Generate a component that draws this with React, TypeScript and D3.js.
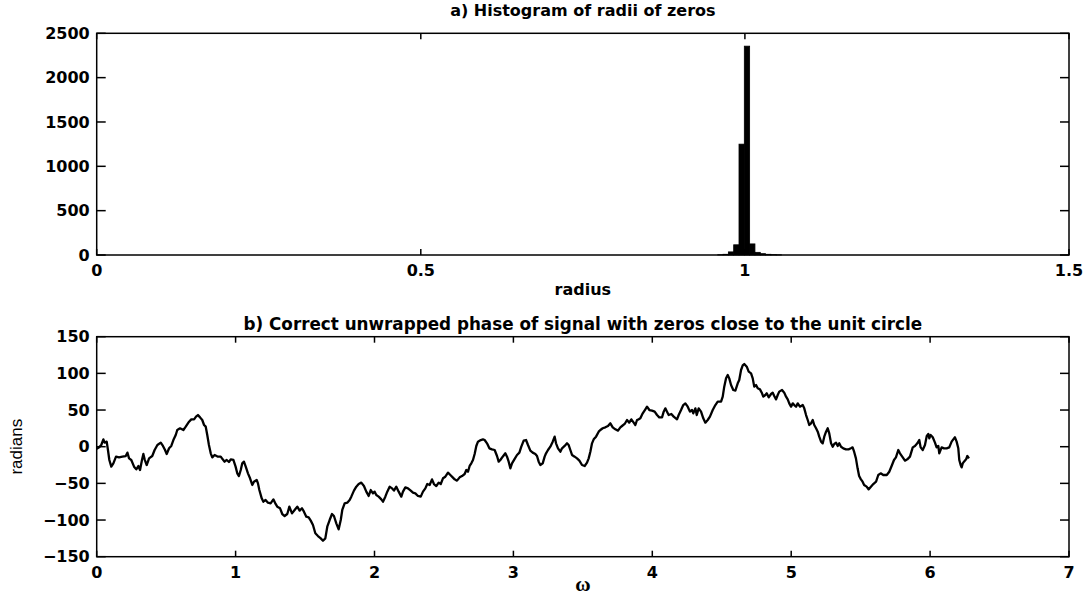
import React from 'react';
import * as d3 from 'd3';

const histTitle = 'a) Histogram of radii of zeros';
const histXLabel = 'radius';
const phaseTitle = 'b) Correct unwrapped phase of signal with zeros close to the unit circle';
const phaseXLabel = 'ω';
const phaseYLabel = 'radians';

const radiusTicks = [0, 0.5, 1, 1.5];
const countTicks = [0, 500, 1000, 1500, 2000, 2500];
const omegaTicks = [0, 1, 2, 3, 4, 5, 6, 7];
const phaseTicks = [-150, -100, -50, 0, 50, 100, 150];

const radiusBinWidth = 0.0082;
const radiusBinCenters = [0.9622, 0.9704, 0.9786, 0.9868, 0.995, 1.0032, 1.0114, 1.0196, 1.0278, 1.036, 1.0442, 1.0524];
const radiusCounts = [3, 8, 35, 115, 1250, 2355, 125, 30, 15, 8, 4, 2];

const phaseCurve: [number, number][] = [
  [0, -3], [0.017, -0.9], [0.033, 2.3], [0.048, 10.0], [0.057, 5.5], [0.072, 6.9], [0.081, -4.5], [0.091, -18.1],
  [0.105, -27.2], [0.12, -22.7], [0.139, -13.6], [0.161, -14.5], [0.185, -13.6], [0.209, -12.7], [0.221, -8.1],
  [0.233, -15.9], [0.249, -18.1], [0.269, -27.2], [0.285, -30.9], [0.3, -26.3], [0.312, -31.8], [0.326, -18.1],
  [0.336, -9.9], [0.345, -17.2], [0.36, -25.0], [0.377, -15.9], [0.4, -12.7], [0.417, -4.5], [0.437, 2.3],
  [0.461, 5.5], [0.477, 1.0], [0.492, -4.5], [0.504, -9.9], [0.521, -2.2], [0.537, 1.0], [0.552, 9.1],
  [0.569, 16.0], [0.58, 22.8], [0.6, 25.1], [0.624, 22.8], [0.641, 27.3], [0.665, 34.1], [0.681, 37.3],
  [0.701, 37.3], [0.715, 41.0], [0.729, 43.2], [0.744, 40.0], [0.76, 36.4], [0.773, 29.6], [0.785, 27.3],
  [0.796, 16.0], [0.808, 2.3], [0.821, -9.0], [0.832, -14.5], [0.849, -11.3], [0.873, -13.6], [0.893, -13.6],
  [0.907, -17.2], [0.921, -20.4], [0.936, -18.1], [0.952, -20.9], [0.965, -17.2], [0.984, -18.1], [1.0, -27.2],
  [1.012, -36.3], [1.024, -40.0], [1.037, -31.8], [1.048, -22.7], [1.06, -20.4], [1.073, -27.2], [1.089, -36.3],
  [1.104, -43.1], [1.12, -52.2], [1.132, -47.7], [1.152, -45.4], [1.161, -50.0], [1.171, -59.1], [1.188, -70.4],
  [1.2, -75.0], [1.216, -72.7], [1.233, -76.3], [1.252, -77.2], [1.272, -71.8], [1.288, -78.1], [1.3, -81.8],
  [1.32, -84.0], [1.336, -91.8], [1.353, -94.5], [1.372, -91.8], [1.387, -81.8],
  [1.406, -90.9], [1.425, -86.3], [1.444, -81.8], [1.461, -87.2], [1.478, -84.0], [1.492, -88.6],
  [1.509, -95.4], [1.526, -96.3], [1.541, -100.8], [1.557, -106.8], [1.574, -118.1], [1.593, -121.8],
  [1.613, -125.0], [1.629, -128.2], [1.646, -125.0], [1.66, -109.1], [1.677, -100.0], [1.694, -91.8],
  [1.708, -94.5], [1.725, -104.5], [1.742, -112.7], [1.757, -100.0], [1.768, -86.3], [1.785, -77.2],
  [1.804, -76.3], [1.821, -72.7], [1.833, -68.1], [1.852, -59.9], [1.869, -54.5], [1.886, -50.9],
  [1.905, -49.0], [1.924, -53.6], [1.941, -61.3], [1.958, -67.2], [1.973, -59.1], [1.989, -63.6],
  [2.001, -61.3], [2.013, -65.9], [2.03, -68.1], [2.049, -71.8], [2.061, -75.0], [2.078, -68.1],
  [2.092, -61.3], [2.109, -54.5], [2.126, -56.8], [2.14, -59.9], [2.157, -54.5], [2.174, -61.3],
  [2.193, -68.1], [2.205, -61.3], [2.222, -55.4], [2.241, -56.8], [2.261, -59.9], [2.277, -62.7],
  [2.294, -63.6], [2.313, -67.2], [2.333, -68.1], [2.349, -61.3], [2.366, -56.8], [2.38, -50.9],
  [2.397, -52.2], [2.414, -44.5], [2.428, -50.9], [2.445, -53.6], [2.462, -49.0], [2.477, -50.9],
  [2.493, -43.1], [2.51, -40.9], [2.529, -35.4], [2.546, -38.6], [2.563, -41.8], [2.577, -44.5],
  [2.594, -46.3], [2.613, -41.8], [2.63, -40.0], [2.649, -37.2], [2.661, -31.8], [2.673, -34.1],
  [2.685, -26.3], [2.697, -22.7], [2.709, -18.1], [2.721, -9.9], [2.733, 1.0], [2.745, 6.9],
  [2.765, 9.1], [2.781, 10.0],
  [2.793, 9.1], [2.81, 4.6], [2.827, -2.2], [2.846, -3.6], [2.865, -4.5], [2.882, -12.7], [2.894, -20.4],
  [2.906, -18.1], [2.923, -13.6], [2.942, -9.0], [2.954, -13.6], [2.966, -20.4], [2.978, -29.5], [2.99, -22.7],
  [3.007, -17.2], [3.026, -11.3], [3.043, -8.1], [3.057, 0.0], [3.074, 8.2], [3.091, 9.1], [3.105, 2.3],
  [3.122, -5.4], [3.139, -8.1], [3.158, -10.0], [3.17, -12.7], [3.182, -20.4], [3.194, -25.0], [3.211, -22.7],
  [3.225, -13.6], [3.235, -9.0], [3.249, -4.5], [3.266, 0.0], [3.283, 6.9], [3.297, 13.7], [3.307, 4.6],
  [3.321, -2.2], [3.338, -6.8], [3.35, -2.2], [3.369, 1.0], [3.386, 4.6], [3.398, 2.3], [3.41, -4.5],
  [3.422, -11.3], [3.441, -13.6], [3.458, -15.9], [3.475, -19.0], [3.494, -25.0], [3.513, -26.3],
  [3.53, -21.8], [3.542, -15.9], [3.554, -6.8], [3.566, 4.6], [3.578, 10.0], [3.595, 13.7], [3.614, 20.5],
  [3.626, 22.8], [3.643, 25.1], [3.662, 26.4], [3.681, 28.2], [3.698, 31.9], [3.715, 26.4], [3.734, 23.7],
  [3.753, 21.9], [3.77, 26.4], [3.782, 28.2], [3.801, 31.0], [3.818, 36.4], [3.834, 32.8], [3.849, 37.3],
  [3.866, 32.8], [3.878, 29.6], [3.89, 36.4], [3.902, 37.3], [3.914, 38.7], [3.931, 45.5], [3.95, 51.0],
  [3.962, 54.6], [3.979, 50.0], [3.998, 49.1], [4.017, 47.8], [4.034, 43.2], [4.05, 40.0], [4.07, 40.0],
  [4.082, 47.8], [4.094, 52.3], [4.106, 47.8], [4.118, 43.2], [4.137, 44.6], [4.154, 41.0], [4.178, 37.3],
  [4.19, 43.2], [4.207, 50.0], [4.223, 56.8], [4.238, 59.1], [4.255, 54.6], [4.271, 47.8], [4.286, 50.0],
  [4.295, 45.5], [4.31, 52.3], [4.32, 43.2], [4.334, 52.3], [4.351, 47.8], [4.367, 38.7], [4.382, 32.8],
  [4.399, 36.4], [4.415, 41.0], [4.435, 50.0], [4.454, 56.8], [4.471, 61.4], [4.495, 61.4], [4.507, 68.2],
  [4.518, 81.9], [4.531, 93.2], [4.543, 97.8], [4.554, 93.2], [4.567, 84.1], [4.583, 77.3], [4.598, 76.4],
  [4.615, 86.4], [4.626, 91.0], [4.639, 104.6], [4.651, 110.9], [4.662, 112.8], [4.68, 109.1], [4.694, 102.3],
  [4.711, 100.0], [4.723, 93.2], [4.734, 81.9], [4.747, 84.1], [4.759, 79.6], [4.775, 78.2], [4.79, 72.8],
  [4.799, 68.2], [4.814, 70.5], [4.824, 72.8], [4.838, 67.3], [4.855, 71.9], [4.867, 73.7], [4.878, 69.1],
  [4.891, 64.5], [4.903, 70.5], [4.914, 75.1], [4.934, 77.3], [4.95, 73.7], [4.963, 68.2], [4.975, 64.5],
  [4.986, 59.1], [4.999, 54.6], [5.011, 59.1], [5.022, 56.8], [5.035, 54.6], [5.047, 59.1], [5.063, 54.6],
  [5.083, 56.8], [5.094, 52.3], [5.107, 43.2], [5.119, 36.4], [5.13, 29.6], [5.143, 31.9], [5.155, 36.4],
  [5.166, 29.6], [5.179, 25.1], [5.191, 20.5], [5.202, 13.7], [5.215, 6.9], [5.227, 4.6], [5.238, 13.7],
  [5.251, 20.5], [5.263, 25.1], [5.274, 18.2], [5.287, 4.6], [5.299, 0.0], [5.31, 3.7], [5.323, 5.5],
  [5.335, 1.0], [5.346, 4.6], [5.359, 0.0], [5.375, -2.2], [5.394, -3.6], [5.413, -3.6], [5.43, -2.2],
  [5.442, -0.9], [5.453, -6.8], [5.466, -15.9], [5.478, -29.5], [5.489, -40.0], [5.502, -44.5], [5.514, -47.7],
  [5.525, -52.2], [5.543, -54.5], [5.557, -58.2], [5.574, -54.5],
  [5.591, -50.9], [5.611, -47.7], [5.627, -38.6], [5.644, -36.3], [5.663, -38.6], [5.688, -38.6], [5.706, -34.1],
  [5.723, -26.3], [5.74, -18.1], [5.754, -14.5], [5.771, -4.5], [5.783, -9.0], [5.803, -14.5], [5.819, -19.0],
  [5.836, -17.2], [5.855, -13.6], [5.875, -0.9], [5.891, 1.0], [5.908, 4.6], [5.922, 9.1], [5.932, -0.9],
  [5.947, -4.5], [5.963, 2.3], [5.976, 14.6], [5.987, 17.3], [5.994, 11.4], [6.004, 16.0], [6.019, 12.8],
  [6.035, 5.5], [6.047, -0.9], [6.059, 1.0], [6.066, -9.0], [6.083, -0.9], [6.1, -2.2], [6.119, -2.2],
  [6.138, -0.9], [6.155, 6.9], [6.167, 10.0], [6.179, 12.8], [6.191, 6.9], [6.203, -2.2], [6.21, -18.1],
  [6.22, -25.0], [6.227, -28.2], [6.235, -22.7], [6.244, -20.4], [6.259, -17.2], [6.268, -12.7], [6.28, -15.9],
];

const fmt = (v: number) => String(v).replace('-', '\u2212');

const FONT = '"DejaVu Sans", sans-serif';

export default function App() {
  const W = 1088, H = 595;
  const L = 96.7, R = 1069;
  const t1 = 33.3, b1 = 255;
  const t2 = 336.7, b2 = 556.7;
  const xR = d3.scaleLinear().domain([0, 1.5]).range([L, R]);
  const yC = d3.scaleLinear().domain([0, 2500]).range([b1, t1]);
  const xW = d3.scaleLinear().domain([0, 7]).range([L, R]);
  const yP = d3.scaleLinear().domain([-150, 150]).range([b2, t2]);
  const line = d3.line<[number, number]>().x(d => xW(d[0])).y(d => yP(d[1]));
  const xTickLen = 6, yTickLen = 9;
  const stroke = '#000';
  const axisW = 1.5;
  const tickFont = { fontFamily: FONT, fontWeight: 700, fontSize: 16, fill: '#000' } as const;

  const frame = (top: number, bottom: number, xs: number[], xScale: (v: number) => number, ys: number[], yScale: (v: number) => number, key: string) => (
    <g key={key}>
      <rect x={L} y={top} width={R - L} height={bottom - top} fill="none" stroke={stroke} strokeWidth={axisW} />
      {xs.map(v => (
        <g key={'x' + v}>
          <line x1={xScale(v)} x2={xScale(v)} y1={bottom} y2={bottom - xTickLen} stroke={stroke} strokeWidth={axisW} />
          <line x1={xScale(v)} x2={xScale(v)} y1={top} y2={top + xTickLen} stroke={stroke} strokeWidth={axisW} />
          <text x={xScale(v)} y={bottom + 21} textAnchor="middle" {...tickFont}>{fmt(v)}</text>
        </g>
      ))}
      {ys.map(v => (
        <g key={'y' + v}>
          <line x1={L} x2={L + yTickLen} y1={yScale(v)} y2={yScale(v)} stroke={stroke} strokeWidth={axisW} />
          <line x1={R} x2={R - yTickLen} y1={yScale(v)} y2={yScale(v)} stroke={stroke} strokeWidth={axisW} />
          <text x={L - 7} y={yScale(v)} dy="0.36em" textAnchor="end" {...tickFont}>{fmt(v)}</text>
        </g>
      ))}
    </g>
  );

  return (
    <svg width={W} height={H} viewBox={`0 0 ${W} ${H}`} style={{ position: 'absolute', left: 0, top: 0, background: '#fff' }}>
      <rect x={0} y={0} width={W} height={H} fill="#fff" />
      {/* Histogram */}
      {radiusBinCenters.map((c, i) => {
        const x0 = xR(c - radiusBinWidth / 2);
        const x1 = xR(c + radiusBinWidth / 2);
        const y = yC(radiusCounts[i]);
        return <rect key={'b' + i} x={x0} y={y} width={x1 - x0} height={b1 - y} fill="#000" stroke="#000" strokeWidth={0.8} />;
      })}
      {frame(t1, b1, radiusTicks, xR, countTicks, yC, 'top')}
      <text x={(L + R) / 2} y={16} textAnchor="middle" {...tickFont}>{histTitle}</text>
      <text x={(L + R) / 2} y={295} textAnchor="middle" {...tickFont}>{histXLabel}</text>

      {/* Phase */}
      <path d={line(phaseCurve) || ''} fill="none" stroke="#000" strokeWidth={2.3} strokeLinejoin="round" />
      {frame(t2, b2, omegaTicks, xW, phaseTicks, yP, 'bot')}
      <text x={(L + R) / 2} y={330} textAnchor="middle" {...tickFont} fontSize={16.8}>{phaseTitle}</text>
      <text x={(L + R) / 2} y={591} textAnchor="middle" fontFamily='"Liberation Serif", serif' fontWeight={700} fontSize={21}>{phaseXLabel}</text>
      <text transform={`translate(22, ${(t2 + b2) / 2}) rotate(-90)`} textAnchor="middle" fontFamily='"Liberation Sans", sans-serif' fontSize={17}>{phaseYLabel}</text>
    </svg>
  );
}
